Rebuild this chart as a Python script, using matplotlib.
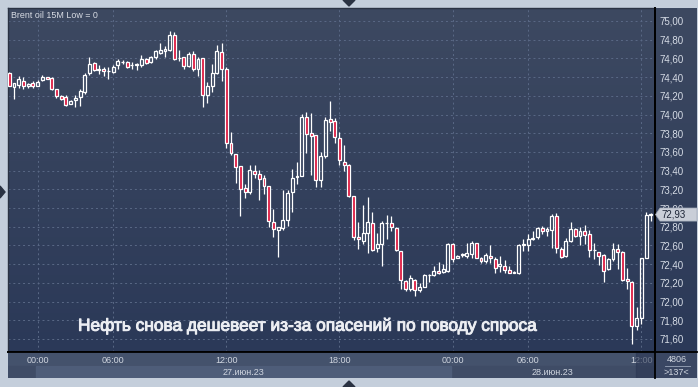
import numpy as np
import matplotlib
matplotlib.use('Agg')
import matplotlib.pyplot as plt
import matplotlib.transforms as mtrans
import matplotlib.patheffects as pe
from matplotlib.patches import Polygon, Rectangle
from matplotlib.lines import Line2D

plt.rcParams['font.family'] = ['Liberation Sans', 'DejaVu Sans']

# свечи Brent 15M, 27-28 июня 2023
opens = [74.44, 74.29, 74.32, 74.36, 74.31, 74.34, 74.31, 74.37, 74.40, 74.39,
         74.27, 74.20, 74.19, 74.11, 74.16, 74.19, 74.24, 74.44, 74.55, 74.49,
         74.49, 74.46, 74.45, 74.53, 74.56, 74.56, 74.53, 74.53, 74.53, 74.59,
         74.56, 74.61, 74.66, 74.68, 74.69, 74.85, 74.60, 74.61, 74.52, 74.65,
         74.49, 74.60, 74.21, 74.31, 74.44, 74.67, 74.49, 73.69, 73.58, 73.45,
         73.21, 73.17, 73.40, 73.36, 73.32, 73.24, 72.85, 72.76, 72.79, 72.87,
         73.17, 73.33, 73.34, 73.97, 73.80, 73.78, 73.30, 73.56, 73.95, 73.93,
         73.75, 73.49, 73.46, 73.13, 72.69, 72.65, 72.73, 72.84, 72.57, 72.62,
         72.84, 72.84, 72.79, 72.54, 72.22, 72.13, 72.23, 72.12, 72.16, 72.28,
         72.28, 72.33, 72.32, 72.33, 72.62, 72.47, 72.50, 72.49, 72.51, 72.63,
         72.47, 72.43, 72.49, 72.45, 72.38, 72.38, 72.34, 72.31, 72.30, 72.60,
         72.60, 72.67, 72.69, 72.79, 72.75, 72.77, 72.91, 72.56, 72.49, 72.65,
         72.78, 72.70, 72.75, 72.72, 72.55, 72.53, 72.50, 72.35, 72.45, 72.56,
         72.53, 72.24, 72.21, 71.74, 71.82, 72.47, 72.93]
highs = [74.45, 74.34, 74.41, 74.40, 74.34, 74.36, 74.37, 74.42, 74.40, 74.40,
         74.27, 74.21, 74.21, 74.15, 74.21, 74.27, 74.44, 74.61, 74.56, 74.53,
         74.51, 74.51, 74.53, 74.59, 74.58, 74.57, 74.56, 74.55, 74.64, 74.60,
         74.63, 74.69, 74.76, 74.73, 74.89, 74.88, 74.69, 74.62, 74.67, 74.68,
         74.61, 74.60, 74.35, 74.54, 74.74, 74.76, 74.51, 73.81, 73.58, 73.45,
         73.26, 73.46, 73.46, 73.41, 73.35, 73.24, 72.99, 72.80, 73.19, 73.19,
         73.42, 73.49, 74.01, 74.03, 74.02, 73.78, 73.60, 73.97, 74.14, 73.96,
         73.81, 73.67, 73.47, 73.13, 72.85, 73.03, 73.12, 72.96, 72.73, 72.86,
         72.93, 72.91, 72.80, 72.54, 72.23, 72.28, 72.24, 72.20, 72.29, 72.29,
         72.38, 72.42, 72.40, 72.63, 72.63, 72.50, 72.52, 72.63, 72.65, 72.63,
         72.48, 72.52, 72.60, 72.48, 72.49, 72.44, 72.38, 72.33, 72.62, 72.67,
         72.72, 72.75, 72.80, 72.81, 72.80, 72.94, 72.95, 72.58, 72.68, 72.85,
         72.79, 72.80, 72.82, 72.77, 72.63, 72.53, 72.51, 72.47, 72.63, 72.61,
         72.54, 72.36, 72.22, 71.94, 72.46, 72.96, 72.95]
lows = [74.30, 74.17, 74.28, 74.27, 74.28, 74.28, 74.30, 74.36, 74.38, 74.26,
        74.18, 74.16, 74.09, 74.11, 74.08, 74.09, 74.22, 74.42, 74.46, 74.43,
        74.41, 74.38, 74.44, 74.49, 74.54, 74.50, 74.49, 74.48, 74.51, 74.54,
        74.55, 74.59, 74.65, 74.62, 74.68, 74.58, 74.57, 74.49, 74.51, 74.47,
        74.41, 74.08, 74.12, 74.24, 74.43, 74.36, 73.64, 73.57, 73.27, 72.91,
        73.11, 73.15, 73.32, 73.09, 73.15, 72.80, 72.69, 72.48, 72.77, 72.81,
        72.96, 73.26, 73.34, 73.59, 73.35, 73.22, 73.22, 73.54, 73.82, 73.69,
        73.46, 73.40, 73.12, 72.66, 72.56, 72.62, 72.52, 72.54, 72.53, 72.38,
        72.67, 72.75, 72.54, 72.13, 72.11, 72.11, 72.06, 72.10, 72.16, 72.21,
        72.27, 72.29, 72.30, 72.32, 72.42, 72.46, 72.48, 72.47, 72.47, 72.46,
        72.41, 72.41, 72.41, 72.30, 72.32, 72.30, 72.30, 72.30, 72.29, 72.54,
        72.54, 72.66, 72.67, 72.72, 72.70, 72.57, 72.52, 72.47, 72.48, 72.64,
        72.69, 72.60, 72.62, 72.48, 72.45, 72.39, 72.21, 72.34, 72.43, 72.35,
        72.22, 72.13, 71.55, 71.69, 71.76, 72.46, 72.86]
closes = [74.31, 74.34, 74.38, 74.31, 74.33, 74.31, 74.35, 74.40, 74.38, 74.27,
          74.20, 74.17, 74.10, 74.14, 74.18, 74.25, 74.42, 74.54, 74.48, 74.48,
          74.46, 74.46, 74.51, 74.57, 74.56, 74.51, 74.53, 74.54, 74.59, 74.55,
          74.61, 74.68, 74.69, 74.70, 74.85, 74.59, 74.60, 74.52, 74.65, 74.49,
          74.59, 74.21, 74.31, 74.44, 74.68, 74.49, 73.69, 73.59, 73.44, 73.20,
          73.17, 73.41, 73.36, 73.31, 73.24, 72.86, 72.78, 72.80, 72.87, 73.16,
          73.32, 73.34, 73.97, 73.79, 73.77, 73.30, 73.56, 73.94, 73.92, 73.76,
          73.51, 73.46, 73.13, 72.69, 72.67, 72.73, 72.85, 72.55, 72.62, 72.84,
          72.84, 72.80, 72.55, 72.23, 72.13, 72.25, 72.12, 72.16, 72.28, 72.28,
          72.33, 72.31, 72.35, 72.62, 72.45, 72.49, 72.51, 72.52, 72.63, 72.47,
          72.43, 72.50, 72.47, 72.36, 72.40, 72.34, 72.31, 72.31, 72.60, 72.61,
          72.67, 72.68, 72.79, 72.75, 72.78, 72.91, 72.57, 72.48, 72.65, 72.78,
          72.70, 72.75, 72.71, 72.55, 72.55, 72.49, 72.33, 72.45, 72.56, 72.53,
          72.23, 72.22, 71.74, 71.82, 72.46, 72.92, 72.93]

time_ticks = [6, 22, 46, 70, 94, 110, 134]
time_labels = ['00:00', '06:00', '12:00', '18:00', '00:00', '06:00', '12:00']
day_labels = ['27.июн.23', '28.июн.23']
price_ticks = [71.6, 71.8, 72.0, 72.2, 72.4, 72.6, 72.8, 73.0, 73.2, 73.4,
               73.6, 73.8, 74.0, 74.2, 74.4, 74.6, 74.8, 75.0]
price_labels = ['%.2f' % v for v in price_ticks]
price_labels = [s.replace('.', ',') for s in price_labels]
last_price = 72.93
title = 'Brent oil 15M Low = 0'
headline = 'Нефть снова дешевеет из-за опасений по поводу спроса'
bars_total = '4806'
bars_visible = '>137<'

W, H = 698, 387
fig = plt.figure(figsize=(W / 100, H / 100), dpi=100, facecolor='#c4cedb')


def box(x0, y0, x1, y1):
    # пиксели картинки -> координаты фигуры
    return [x0 / W, 1 - y1 / H, (x1 - x0) / W, (y1 - y0) / H]


# фон с градиентом (график + правая шкала)
bg = fig.add_axes(box(8, 8, 697, 352))
g = np.linspace(0, 1, 256)[:, None, None]
c_top = np.array([61, 73, 97]) / 255
c_bot = np.array([43, 57, 88]) / 255
bg.imshow(c_top + (c_bot - c_top) * g, aspect='auto', extent=(0, 1, 0, 1))
bg.axis('off')

ax = fig.add_axes(box(8, 8, 655, 352))
ax.set_facecolor('none')

o = np.array(opens)
h = np.array(highs)
l = np.array(lows)
c = np.array(closes)
x = np.arange(len(o))
up = c >= o
btop = np.maximum(o, c)
bbot = np.minimum(o, c)

ax.vlines(x, btop, h, color='white', lw=0.9, zorder=3)
ax.vlines(x, l, bbot, color='white', lw=0.9, zorder=3)
ax.bar(x, np.maximum(btop - bbot, 0.003), bottom=bbot, width=0.62,
       color=['none' if u else '#dc143c' for u in up],
       edgecolor='white', linewidth=0.9, zorder=4)

ax.set_xlim(-0.28, 136.9)
ax.set_ylim(71.46, 75.139)
ax.set_xticks(time_ticks)
ax.set_yticks(price_ticks)
ax.set_yticklabels(price_labels)
ax.yaxis.tick_right()
ax.tick_params(axis='x', length=0, labelbottom=False)
ax.tick_params(axis='y', length=0, pad=3, labelsize=7, labelcolor='#d6dce6')
ax.grid(True, color='#5a6986', lw=0.7, ls=(0, (2, 3)))
ax.set_axisbelow(True)
for s in ['right', 'bottom']:
    ax.spines[s].set_color('black')
    ax.spines[s].set_linewidth(1.3)
for s in ['top', 'left']:
    ax.spines[s].set_color('#2a3243')
    ax.spines[s].set_linewidth(1.0)

# метка последней цены (x - доли фигуры, y - цена)
tr = mtrans.blended_transform_factory(fig.transFigure, ax.transData)
dy = 0.07
fig.add_artist(Polygon([[655.5 / W, last_price], [660 / W, last_price + dy],
                        [697 / W, last_price + dy], [697 / W, last_price - dy],
                        [660 / W, last_price - dy]], closed=True, transform=tr,
                       fc='#c9ced8', ec='#a0a8b6', lw=0.5, zorder=5))
fig.text(661 / W, last_price, ('%.2f' % last_price).replace('.', ','), transform=tr,
         ha='left', va='center', fontsize=7, color='#1c2436', zorder=6)

# шкала времени
tax = fig.add_axes(box(8, 352, 655, 378))
tax.set_xlim(ax.get_xlim())
tax.set_ylim(0, 1)
tax.set_xticks([])
tax.set_yticks([])
for s in tax.spines.values():
    s.set_visible(False)
tax.set_facecolor('#44526c')
tax.add_patch(Rectangle((-1, 0), 140, 0.46, color='#3f4c66', zorder=0))
day_starts = [time_ticks[0] - 0.4, time_ticks[4] - 0.4, 136.9]
tax.add_patch(Rectangle((day_starts[0], 0), day_starts[1] - day_starts[0], 0.46,
                        color='#4e5d79', zorder=1))
for t, lab in zip(time_ticks, time_labels):
    tax.text(t, 0.66, lab, ha='center', va='center', fontsize=6.5, color='#d0d6e0')
for k, lab in enumerate(day_labels):
    tax.text((day_starts[k] + day_starts[k + 1]) / 2, 0.23, lab, ha='center',
             va='center', fontsize=6.5, color='#d0d6e0')
tax.add_patch(Rectangle((132.8, 0), 4.5, 1, color='#2b3753', alpha=0.6, zorder=5))

# правый нижний угол
rax = fig.add_axes(box(655, 352, 697, 378))
rax.set_xlim(0, 1)
rax.set_ylim(0, 1)
rax.set_xticks([])
rax.set_yticks([])
for s in rax.spines.values():
    s.set_visible(False)
rax.set_facecolor('#3a4763')
rax.text(0.52, 0.73, bars_total, ha='center', va='center', fontsize=6.5, color='#d0d6e0')
rax.text(0.52, 0.23, bars_visible, ha='center', va='center', fontsize=6.5, color='#d0d6e0')
rax.plot([0.24, 0.83], [0.46, 0.46], color='#9aa6ba', lw=0.6)

fig.add_artist(Line2D([8 / W, 697 / W], [1 - 352 / H] * 2, color='black', lw=1.3))
fig.add_artist(Line2D([655 / W] * 2, [1 - 8 / H, 1 - 378 / H], color='black', lw=1.3))

# треугольнички интерфейса
for pts in ([[343, 0], [355, 0], [349, 6]],
            [[0, 186], [0, 198], [5, 192]],
            [[343, 387], [355, 387], [349, 381]]):
    fig.add_artist(Polygon([[px / W, 1 - py / H] for px, py in pts], closed=True,
                           transform=fig.transFigure, color='#2a3242'))

fig.text(11 / W, 1 - 15 / H, title, ha='left', va='center', fontsize=6.4, color='#d8dce4')

hl = fig.text(78 / W, 1 - 326 / H, headline, ha='left', va='center',
              fontsize=12, color='#eceef3')
fig.canvas.draw()
w = hl.get_window_extent().width
hl.set_fontsize(12 * 459 / w)
hl.set_path_effects([pe.withStroke(linewidth=0.7, foreground='#eceef3')])

fig.savefig('out.png', dpi=100, facecolor=fig.get_facecolor())
